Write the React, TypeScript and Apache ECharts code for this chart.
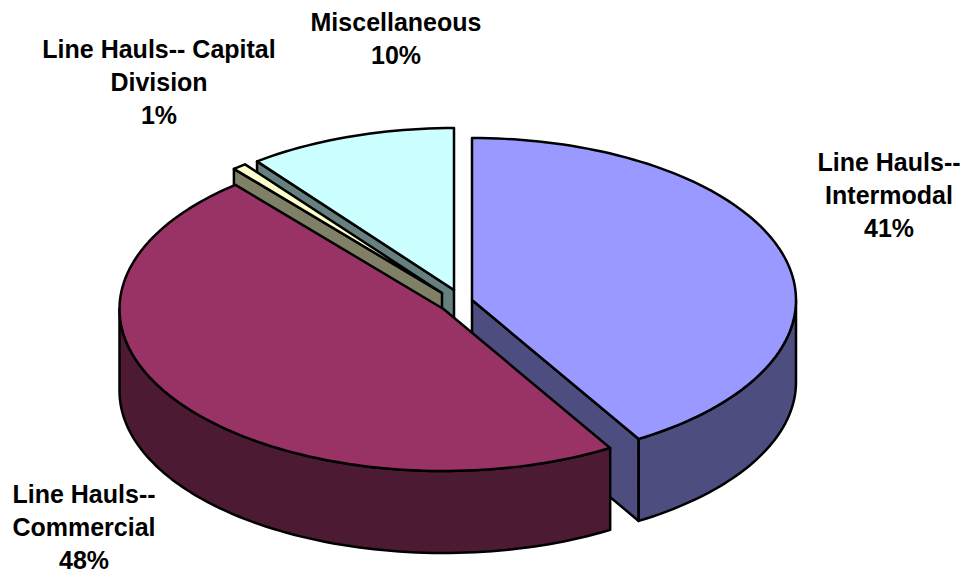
import React, { useEffect, useRef } from "react";
import * as echarts from "echarts";

const categories = ["Line Hauls--\nIntermodal", "Line Hauls--\nCommercial", "Line Hauls-- Capital\nDivision", "Miscellaneous"];
const shares = [41.4, 47.5, 0.7, 10.4];
const percentLabels = ["41%", "48%", "1%", "10%"];
const topColors = ["#9999FF", "#993366", "#FFFFCC", "#CCFFFF"];
const sideColors = ["#4D4D80", "#4D1A33", "#808066", "#668080"];

// Layout of the exploded pseudo-3D pie
const RX = 324;
const RY = 162;
const DEPTH = 82;
const centerX = [472, 443.5, 442, 454];
const centerY = [300, 309, 293, 290];
const labelX = [889, 84, 159, 396];
const labelY = [162, 494, 49, 22];
const lineGap = 33;
// back-most slices first
const paintRank = [2, 3, 1, 0];

function point(i: number, deg: number, drop = 0): number[] {
  const t = (deg * Math.PI) / 180;
  return [centerX[i] + RX * Math.sin(t), centerY[i] - RY * Math.cos(t) + drop];
}

function arc(i: number, a: number, b: number, drop = 0): number[][] {
  const steps = Math.max(2, Math.ceil(Math.abs(b - a) / 1.5));
  const out: number[][] = [];
  for (let k = 0; k <= steps; k++) out.push(point(i, a + ((b - a) * k) / steps, drop));
  return out;
}

function renderSlice(params: any, api: any) {
  const i = params.dataIndex;
  const total = shares.reduce((s, v) => s + v, 0);
  const before = shares.slice(0, i).reduce((s, v) => s + v, 0);
  const a0 = (before / total) * 360;
  const a1 = a0 + (api.value(0) / total) * 360;
  const apex = [centerX[i], centerY[i]];
  const apexLow = [centerX[i], centerY[i] + DEPTH];
  const base = paintRank[i] * 10;
  const edge = { stroke: "#000", lineWidth: 2.5, lineJoin: "round" };
  const children: any[] = [];
  const poly = (points: number[][], fill: string, z: number) =>
    children.push({ type: "polygon", z2: base + z, shape: { points }, style: { fill, ...edge } });

  if (Math.sin((a0 * Math.PI) / 180) < -1e-6) {
    poly([apex, point(i, a0), point(i, a0, DEPTH), apexLow], sideColors[i], 1);
  }
  if (Math.sin((a1 * Math.PI) / 180) > 1e-6) {
    poly([apex, point(i, a1), point(i, a1, DEPTH), apexLow], sideColors[i], 1);
  }
  const w0 = Math.max(a0, 90);
  const w1 = Math.min(a1, 270);
  if (w1 > w0) {
    poly([...arc(i, w0, w1), ...arc(i, w1, w0, DEPTH)], sideColors[i], 2);
  }
  poly([apex, ...arc(i, a0, a1)], topColors[i], 3);

  children.push({
    type: "text",
    z2: 100,
    x: labelX[i],
    y: labelY[i] - lineGap / 2,
    style: {
      text: `${categories[i]}\n${percentLabels[i]}`,
      fontFamily: "'Liberation Sans', Arial, sans-serif",
      fontWeight: "bold",
      fontSize: 25,
      lineHeight: lineGap,
      fill: "#000",
      align: "center",
      verticalAlign: "top",
    },
  });
  return { type: "group", children };
}

export default function App() {
  const ref = useRef<HTMLDivElement>(null);
  useEffect(() => {
    document.body.style.margin = "0";
    const chart = echarts.init(ref.current!, undefined, { renderer: "svg" });
    chart.setOption({
      animation: false,
      backgroundColor: "#fff",
      series: [
        {
          type: "custom",
          coordinateSystem: "none",
          silent: true,
          clip: false,
          renderItem: renderSlice,
          data: shares.map((v) => [v]),
        },
      ],
    });
    return () => chart.dispose();
  }, []);
  return <div ref={ref} style={{ width: 968, height: 576 }} />;
}
